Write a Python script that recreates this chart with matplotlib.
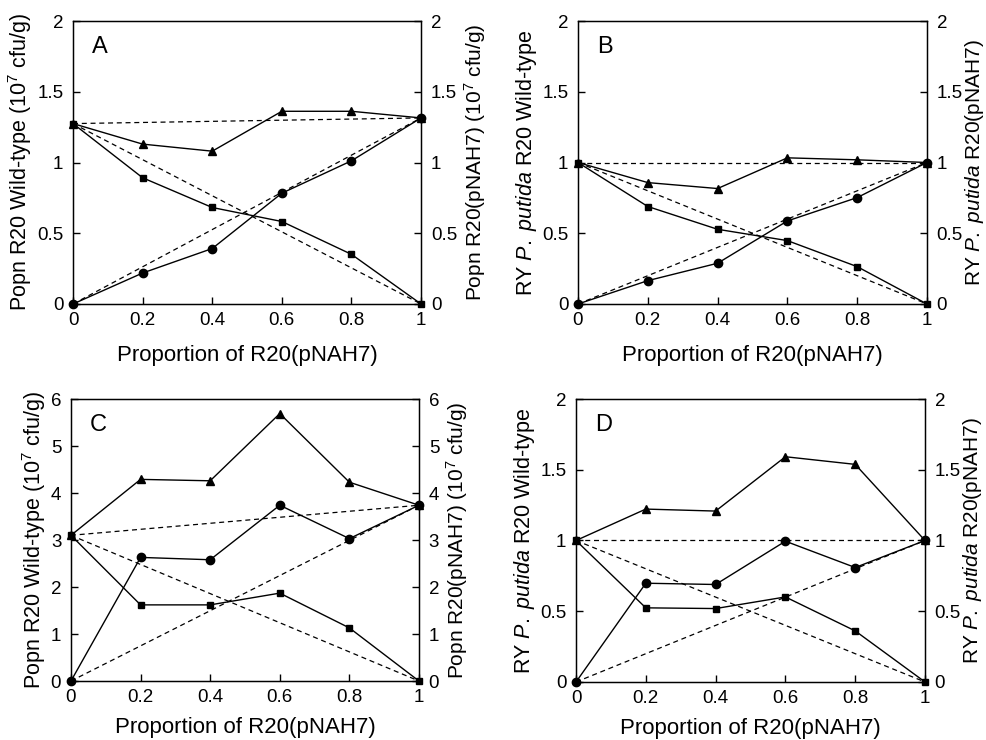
import matplotlib.pyplot as plt
from matplotlib.ticker import FuncFormatter

plt.rcParams['font.family'] = ['Liberation Sans', 'DejaVu Sans']
plt.rcParams['mathtext.fontset'] = 'custom'
plt.rcParams['mathtext.rm'] = 'Liberation Sans'
plt.rcParams['mathtext.it'] = 'Liberation Sans:italic'

prop = [0, 0.2, 0.4, 0.6, 0.8, 1]

# panel A - population (10^7 cfu/g)
a_total = [1.275, 1.13, 1.08, 1.362, 1.362, 1.315]
a_wild = [1.275, 0.892, 0.682, 0.583, 0.351, 0]
a_pnah = [0, 0.219, 0.392, 0.783, 1.012, 1.315]

# panel B - relative yield
b_total = [1.0, 0.858, 0.816, 1.033, 1.019, 1.0]
b_wild = [1.0, 0.689, 0.528, 0.448, 0.264, 0]
b_pnah = [0, 0.165, 0.288, 0.587, 0.752, 1.0]

# panel C - population (10^7 cfu/g)
c_total = [3.10, 4.29, 4.26, 5.69, 4.23, 3.74]
c_wild = [3.10, 1.62, 1.62, 1.87, 1.13, 0]
c_pnah = [0, 2.63, 2.58, 3.74, 3.03, 3.74]

# panel D - relative yield
d_total = [1.0, 1.222, 1.208, 1.592, 1.538, 1.0]
d_wild = [1.0, 0.524, 0.519, 0.601, 0.361, 0]
d_pnah = [0, 0.698, 0.689, 0.995, 0.809, 1.0]

popn_left = 'Popn R20 Wild-type (10$^7$ cfu/g)'
popn_right = 'Popn R20(pNAH7) (10$^7$ cfu/g)'
ry_left = 'RY $\\it{P.\\ putida}$ R20 Wild-type'
ry_right = 'RY $\\it{P.\\ putida}$ R20(pNAH7)'

# letter, series, ymax, yticks, labels, axes rect, xlabel pad, right label pad
panels = [
    ('A', a_total, a_wild, a_pnah, 2, [0, 0.5, 1, 1.5, 2], popn_left, popn_right,
     [0.074, 0.5892, 0.3526, 0.3824], 11, 3.5),
    ('B', b_total, b_wild, b_pnah, 2, [0, 0.5, 1, 1.5, 2], ry_left, ry_right,
     [0.5856, 0.5892, 0.3536, 0.3824], 11, 0),
    ('C', c_total, c_wild, c_pnah, 6, [0, 1, 2, 3, 4, 5, 6], popn_left, popn_right,
     [0.0719, 0.0797, 0.3526, 0.3811], 7.5, 3.5),
    ('D', d_total, d_wild, d_pnah, 2, [0, 0.5, 1, 1.5, 2], ry_left, ry_right,
     [0.5836, 0.0784, 0.3536, 0.3824], 7.5, 0),
]

fmt = FuncFormatter(lambda v, p: '%g' % v)

fig = plt.figure(figsize=(9.87, 7.40), dpi=100)

for letter, tot, wild, pn, ymax, yt, lab_l, lab_r, rect, xpad, rpad in panels:
    ax = fig.add_axes(rect)
    # expected (dashed) lines between the end values
    ax.plot([0, 1], [tot[0], tot[-1]], ls=(0, (4, 3)), color='black', lw=0.9)
    ax.plot([0, 1], [wild[0], wild[-1]], ls=(0, (4, 3)), color='black', lw=0.9)
    ax.plot([0, 1], [pn[0], pn[-1]], ls=(0, (4, 3)), color='black', lw=0.9)
    ax.plot(prop, tot, '-^', color='black', lw=1, ms=6, clip_on=False)
    ax.plot(prop, wild, '-s', color='black', lw=1, ms=4.5, clip_on=False)
    ax.plot(prop, pn, '-o', color='black', lw=1, ms=6, clip_on=False)

    ax.set_xlim(0, 1)
    ax.set_ylim(0, ymax)
    ax.set_xticks(prop)
    ax.set_yticks(yt)
    ax.xaxis.set_major_formatter(fmt)
    ax.yaxis.set_major_formatter(fmt)
    ax.tick_params(direction='in', length=5, width=1, labelsize=13.5)
    ax.tick_params(axis='y', pad=7)
    ax.tick_params(axis='x', pad=6)
    for s in ax.spines.values():
        s.set_linewidth(1)
    ax.set_xlabel('Proportion of R20(pNAH7)', fontsize=16, labelpad=xpad)
    ax.set_ylabel(lab_l, fontsize=15.5, labelpad=2)
    ax.text(0.055, 0.908, letter, transform=ax.transAxes, fontsize=17,
            ha='left', va='center')

    ax2 = ax.twinx()
    ax2.set_ylim(0, ymax)
    ax2.set_yticks(yt)
    ax2.yaxis.set_major_formatter(fmt)
    ax2.tick_params(direction='in', length=5, width=1, labelsize=13.5, pad=7)
    ax2.set_ylabel(lab_r, fontsize=15, labelpad=rpad)

fig.savefig('out.png', dpi=100)
